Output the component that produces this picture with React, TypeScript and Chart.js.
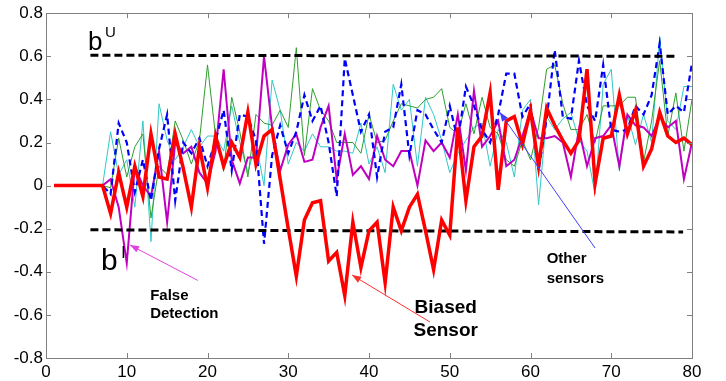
import React, { useEffect, useRef } from "react";
import { Chart, registerables } from "chart.js";

Chart.register(...registerables);

// ---- Data (x = 1..80, one value per step) ----
const biasedSensor = [
  0, 0, 0, 0, 0, 0, 0, -0.13, 0.06, -0.1, 0.09, -0.05, 0.24, 0.04, 0.03, 0.24, 0.08, -0.1, 0.18,
  -0.01, 0.23, 0.09, 0.2, 0.13, 0.34, 0.1, 0.23, 0.26, 0.03, -0.2, -0.42, -0.16, -0.08, -0.07, -0.35,
  -0.31, -0.51, -0.17, -0.38, -0.21, -0.17, -0.45, -0.1, -0.21, -0.1, -0.04, -0.21, -0.39, -0.16,
  -0.23, 0.27, -0.07, 0.18, 0.23, 0.43, -0.02, 0.3, 0.32, 0.19, 0.35, 0.09, 0.36, 0.28, 0.21, 0.15,
  0.21, 0.54, 0.01, 0.22, 0.23, 0.42, 0.24, 0.35, 0.09, 0.17, 0.34, 0.23, 0.2, 0.22, 0.19,
];
const sensorBlue = [
  0, 0, 0, 0, 0, 0, 0, -0.04, 0.29, 0.2, -0.03, 0.12, -0.07, 0.17, 0.33, -0.07, 0.2, 0.15, 0.22,
  0.09, 0.21, 0.35, 0.07, 0.33, 0.32, 0.21, -0.27, 0.14, 0.28, 0.15, 0.25, 0.42, 0.3, 0.37, 0.2,
  -0.05, 0.59, 0.42, 0.25, 0.33, 0.04, 0.25, 0.27, 0.47, 0.14, 0.35, 0.33, 0.26, 0.2, 0.37, 0.21,
  0.46, 0.37, 0.26, 0.2, 0.33, 0.52, 0.52, 0.32, 0.38, 0.07, 0.31, 0.63, 0.32, 0.31, 0.58, 0.37, 0.3,
  0.56, 0.26, 0.25, 0.26, 0.37, 0.33, 0.42, 0.66, 0.33, 0.37, 0.34, 0.57,
];
const sensorMagenta = [
  0, 0, 0, 0, 0, 0, 0, 0.03, -0.1, -0.36, 0.09, 0.0, -0.05, 0.16, -0.17, 0.2, 0.15, 0.18, 0.06,
  0.01, 0.16, 0.54, 0.12, 0.01, 0.13, 0.13, 0.6, 0.27, 0.07, 0.19, 0.24, 0.11, 0.12, 0.27, 0.37,
  0.03, 0.24, 0.05, 0.09, 0.03, 0.23, 0.12, 0.09, 0.16, 0.16, 0.0, 0.21, 0.16, 0.2, 0.13, 0.33, 0.07,
  0.44, 0.18, 0.23, 0.3, 0.09, 0.12, 0.23, 0.35, 0.22, 0.22, 0.23, 0.2, 0.04, 0.26, 0.09, 0.22, 0.23,
  0.28, 0.09, 0.33, 0.28, 0.27, 0.23, 0.32, 0.27, 0.3, 0.03, 0.2,
];
const sensorGreen = [
  0, 0, 0, 0, 0, 0, 0, -0.01, 0.22, 0.04, 0.18, 0.24, -0.15, 0.09, 0.05, 0.3, 0.21, 0.1, 0.21,
  0.56, 0.23, 0.07, 0.41, 0.25, 0.04, 0.33, 0.29, 0.28, 0.35, 0.27, 0.64, 0.14, 0.45, 0.35, 0.3, 0.2,
  0.2, 0.2, 0.15, 0.33, 0.2, 0.21, 0.3, 0.38, 0.37, 0.36, 0.4, 0.41, 0.45, 0.27, 0.24, 0.38, 0.24,
  0.41, 0.27, 0.24, 0.12, 0.09, 0.21, 0.12, 0.27, 0.54, 0.56, 0.38, 0.26, 0.26, 0.33, 0.2, 0.37, 0.37,
  0.37, 0.41, 0.41, 0.11, 0.3, 0.58, 0.23, 0.43, 0.16, 0.4,
];
const sensorCyan = [
  0, 0, 0, 0, 0, 0, 0, 0.25, 0.05, 0.12, -0.1, 0.3, -0.26, 0.38, 0.21, 0.12, 0.18, 0.26, 0.18,
  0.23, 0.23, 0.16, 0.37, 0.2, 0.06, 0.2, 0.0, 0.49, 0.35, 0.1, 0.2, 0.16, 0.24, 0.18, 0.18, 0.16,
  0.16, 0.15, 0.29, 0.1, 0.18, 0.06, 0.47, 0.35, 0.4, 0.09, 0.41, 0.33, 0.21, 0.06, 0.15, 0.21, 0.27,
  0.29, 0.09, 0.26, 0.2, 0.04, 0.35, 0.4, -0.09, 0.32, 0.26, 0.31, 0.34, 0.21, 0.16, -0.04, 0.47, 0.54,
  0.07, 0.33, 0.19, 0.33, 0.2, 0.69, 0.3, 0.26, 0.46, 0.46,
];
const upperBoundX = [5.5, 78.3];
const upperBoundY = [0.605, 0.6];
const lowerBoundX = [5.5, 78.9];
const lowerBoundY = [-0.205, -0.215];

const xTicks = [0, 10, 20, 30, 40, 50, 60, 70, 80];
const yTicks = [-0.8, -0.6, -0.4, -0.2, 0, 0.2, 0.4, 0.6, 0.8];

// annotation texts (anchored in data units)
const labelFalse = ["False", "Detection"];
const labelBiased = ["Biased", "Sensor"];
const labelOther = ["Other", "sensors"];

const FONT = "'Liberation Sans', Arial, sans-serif";

const toPoints = (ys: number[]) => ys.map((y, i) => ({ x: i + 1, y }));
const toPairs = (xs: number[], ys: number[]) => xs.map((x, i) => ({ x, y: ys[i] }));

function arrow(ctx: CanvasRenderingContext2D, x1: number, y1: number, x2: number, y2: number, color: string) {
  ctx.save();
  ctx.strokeStyle = color;
  ctx.fillStyle = color;
  ctx.lineWidth = 1;
  ctx.beginPath();
  ctx.moveTo(x1, y1);
  ctx.lineTo(x2, y2);
  ctx.stroke();
  const a = Math.atan2(y2 - y1, x2 - x1);
  const L = 9, W = 3.5;
  ctx.beginPath();
  ctx.moveTo(x2, y2);
  ctx.lineTo(x2 - L * Math.cos(a) + W * Math.sin(a), y2 - L * Math.sin(a) - W * Math.cos(a));
  ctx.lineTo(x2 - L * Math.cos(a) - W * Math.sin(a), y2 - L * Math.sin(a) + W * Math.cos(a));
  ctx.closePath();
  ctx.fill();
  ctx.restore();
}

const framePlugin = {
  id: "frame",
  afterDraw(chart: any) {
    const { ctx, chartArea: a, scales } = chart;
    const sx = scales.x, sy = scales.y;
    ctx.save();
    ctx.strokeStyle = "#808080";
    ctx.lineWidth = 1;
    ctx.strokeRect(Math.round(a.left) + 0.5, Math.round(a.top) + 0.5, Math.round(a.right - a.left), Math.round(a.bottom - a.top));
    const tl = 5;
    ctx.beginPath();
    xTicks.forEach((t) => {
      const px = Math.round(sx.getPixelForValue(t)) + 0.5;
      ctx.moveTo(px, a.bottom);
      ctx.lineTo(px, a.bottom - tl);
      ctx.moveTo(px, a.top);
      ctx.lineTo(px, a.top + tl);
    });
    yTicks.forEach((t) => {
      const py = Math.round(sy.getPixelForValue(t)) + 0.5;
      ctx.moveTo(a.left, py);
      ctx.lineTo(a.left + tl, py);
      ctx.moveTo(a.right, py);
      ctx.lineTo(a.right - tl, py);
    });
    ctx.stroke();

    const X = (v: number) => sx.getPixelForValue(v);
    const Y = (v: number) => sy.getPixelForValue(v);

    ctx.fillStyle = "#000";
    ctx.textBaseline = "alphabetic";
    ctx.textAlign = "left";
    // b^U
    ctx.font = `26px ${FONT}`;
    ctx.fillText("b", X(5.2), Y(0.63));
    ctx.font = `15px ${FONT}`;
    ctx.fillText("U", X(7.3), Y(0.69));
    // b^l
    ctx.font = `30px ${FONT}`;
    ctx.fillText("b", X(6.8), Y(-0.39));
    ctx.font = `17px ${FONT}`;
    ctx.fillText("l", X(9.35), Y(-0.336));

    // labels
    ctx.font = `bold 15px ${FONT}`;
    ctx.fillText(labelFalse[0], X(12.9), Y(-0.53));
    ctx.fillText(labelFalse[1], X(12.9), Y(-0.615));
    ctx.fillText(labelOther[0], X(62.0), Y(-0.36));
    ctx.fillText(labelOther[1], X(62.0), Y(-0.45));
    ctx.font = `bold 19px ${FONT}`;
    ctx.textAlign = "center";
    ctx.fillText(labelBiased[0], X(49.5), Y(-0.59));
    ctx.fillText(labelBiased[1], X(49.5), Y(-0.70));
    ctx.restore();

    arrow(ctx, X(18.8), Y(-0.44), X(10.4), Y(-0.276), "#e040e0");
    arrow(ctx, X(47.55), Y(-0.633), X(37.9), Y(-0.415), "#ff3030");
    arrow(ctx, X(68.0), Y(-0.29), X(56.2), Y(0.34), "#4040ff");
  },
};

export default function App() {
  const ref = useRef<HTMLCanvasElement | null>(null);
  useEffect(() => {
    if (!ref.current) return;
    const common = { pointRadius: 0, tension: 0, fill: false };
    const chart = new Chart(ref.current, {
      type: "line",
      data: {
        datasets: [
          { ...common, label: "Biased sensor", data: toPoints(biasedSensor), borderColor: "#ff0000", borderWidth: 3.5, order: 0 },
          { ...common, label: "Upper", data: toPairs(upperBoundX, upperBoundY), borderColor: "#000", borderWidth: 3, borderDash: [8, 4], order: 1 },
          { ...common, label: "Lower", data: toPairs(lowerBoundX, lowerBoundY), borderColor: "#000", borderWidth: 3, borderDash: [8, 4], order: 1 },
          { ...common, label: "S2", data: toPoints(sensorBlue), borderColor: "#0000ff", borderWidth: 2.2, borderDash: [6, 4], order: 2 },
          { ...common, label: "S3", data: toPoints(sensorMagenta), borderColor: "#bf00bf", borderWidth: 2, order: 3 },
          { ...common, label: "S4", data: toPoints(sensorGreen), borderColor: "#2e9e2e", borderWidth: 1, order: 4 },
          { ...common, label: "S5", data: toPoints(sensorCyan), borderColor: "#30c8c8", borderWidth: 1, order: 5 },
        ] as any,
      },
      options: {
        animation: false,
        responsive: false,
        devicePixelRatio: 1,
        layout: { padding: { left: 0, top: 13, right: 34, bottom: 0 } },
        plugins: { legend: { display: false }, tooltip: { enabled: false } },
        scales: {
          x: {
            type: "linear",
            min: 0,
            max: 80,
            afterFit: (s: any) => { s.height = 23; },
            afterBuildTicks: (s: any) => { s.ticks = xTicks.map((v) => ({ value: v })); },
            grid: { display: false, drawTicks: false },
            border: { display: false },
            ticks: { color: "#000", font: { family: FONT, size: 17 }, padding: 4, maxRotation: 0, autoSkip: false },
          },
          y: {
            type: "linear",
            min: -0.8,
            max: 0.8,
            afterFit: (s: any) => { s.width = 46; },
            afterBuildTicks: (s: any) => { s.ticks = yTicks.map((v) => ({ value: v })); },
            grid: { display: false, drawTicks: false },
            border: { display: false },
            ticks: {
              color: "#000",
              font: { family: FONT, size: 17 },
              padding: 3,
              autoSkip: false,
              callback: (v: any) => (Math.abs(v) < 1e-9 ? "0" : String(Math.round(v * 10) / 10)),
            },
          },
        },
      } as any,
      plugins: [framePlugin],
    });
    return () => chart.destroy();
  }, []);
  return (
    <div style={{ position: "fixed", left: 0, top: 0, width: 726, height: 381, background: "#fff" }}>
      <canvas ref={ref} width={726} height={381} style={{ width: 726, height: 381, display: "block" }} />
    </div>
  );
}
